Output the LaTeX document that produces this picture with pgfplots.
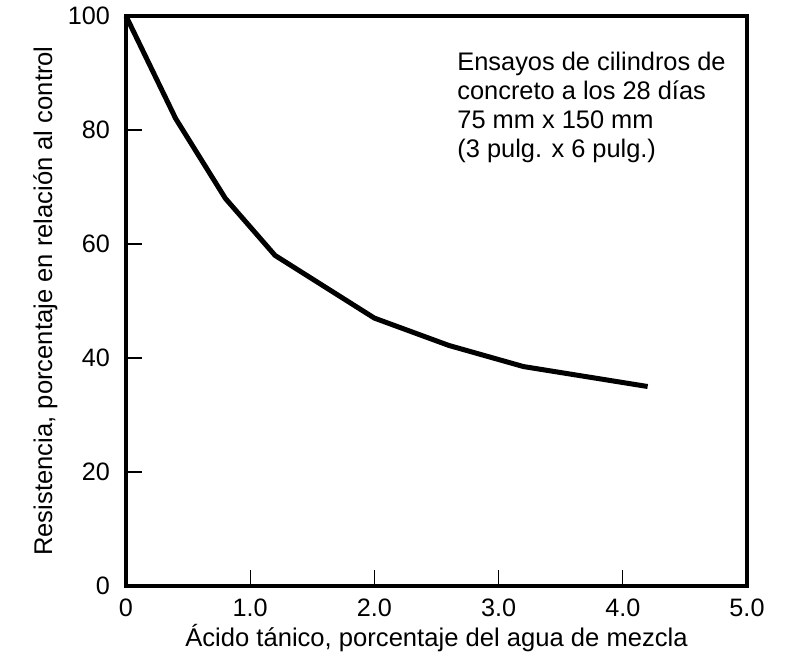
\documentclass[border=0pt]{standalone}
\usepackage{fontspec}
\setmainfont{Liberation Sans}
\usepackage{pgfplots}
\pgfplotsset{compat=1.18}
\newcommand{\tf}{\fontsize{12.6}{14}\selectfont}

\begin{document}
\begin{tikzpicture}
\begin{axis}[
  scale only axis,
  width=310.5pt,
  height=285pt,
  xmin=0, xmax=5,
  ymin=0, ymax=100,
  xtick={0,1,2,3,4,5},
  xticklabels={0,1.0,2.0,3.0,4.0,5.0},
  ytick={0,20,40,60,80,100},
  yticklabels={0,20,40,60,80,100},
  tick pos=left,
  tick align=inside,
  major tick length=8pt,
  tick style={black, line width=0.65pt},
  axis line style={line width=2pt},
  yticklabel style={font=\tf, xshift=-4.5pt},
  xticklabel style={font=\tf, yshift=-3pt},
  xlabel={Ácido tánico, porcentaje del agua de mezcla},
  ylabel={Resistencia, porcentaje en relación al control},
  label style={font=\fontsize{12.8}{15}\selectfont},
  xlabel style={at={(axis description cs:0.5,-0.091)}, anchor=center},
  ylabel style={at={(axis description cs:-0.13,0.5)}, anchor=center},
  clip=false,
]
\addplot[black, line width=2.5pt, line join=round] coordinates {
  (0,100) (0.4,82) (0.8,68) (1.2,58) (1.6,52.5) (2.0,47)
  (2.6,42.2) (3.2,38.5) (4.2,35)
};
\node[anchor=north west, align=left, inner sep=0pt,
  font=\fontsize{12.7}{14.5}\selectfont]
  at (axis cs:2.665,93.8)
  {Ensayos de cilindros de\\concreto a los 28 días\\75 mm x 150 mm\\(3 pulg. x 6 pulg.)};
\end{axis}
\path ([xshift=-63pt,yshift=-34.5pt]current axis.south west)
  rectangle ([xshift=19pt,yshift=8pt]current axis.north east);
\end{tikzpicture}
\end{document}
